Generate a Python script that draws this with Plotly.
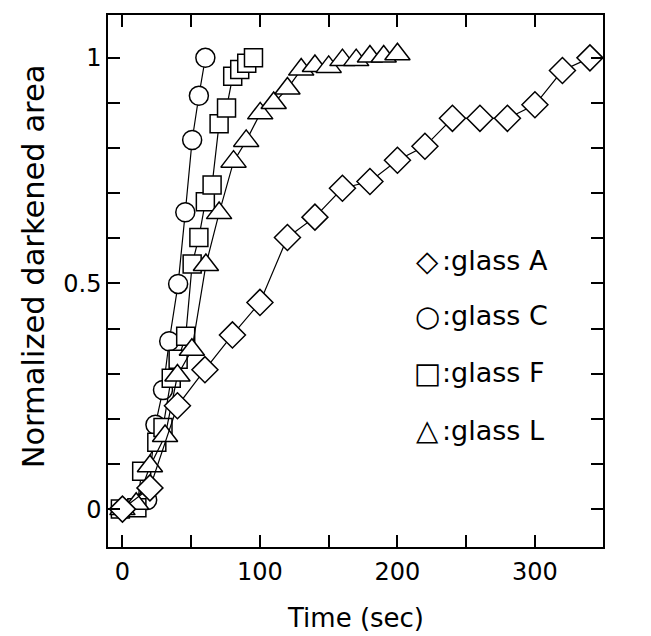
import plotly.graph_objects as go

# ---- data ----
time_A = [0, 20, 40, 60, 80, 100, 120, 140, 160, 180, 200, 220, 240, 260, 280, 300, 320, 340]
area_A = [0.0, 0.047, 0.229, 0.309, 0.386, 0.458, 0.602, 0.647, 0.711, 0.726, 0.773, 0.804, 0.866, 0.866, 0.866, 0.896, 0.972, 1.0]

time_C = [0, 18, 24, 29.5, 34, 40.5, 45.7, 50.7, 55.6, 60.3]
area_C = [0.0, 0.02, 0.187, 0.264, 0.372, 0.499, 0.658, 0.818, 0.916, 1.0]

time_F = [-1.5, 10.5, 14, 25, 29.5, 35.5, 40.5, 46, 50.7, 55.6, 60.3, 65.2, 70.3, 75.7, 80.2, 85.3, 90.4, 95.3]
area_F = [0.0, 0.003, 0.084, 0.148, 0.181, 0.29, 0.332, 0.383, 0.543, 0.602, 0.681, 0.718, 0.854, 0.889, 0.959, 0.974, 0.988, 1.0]

time_L = [0, 10, 20, 31, 40, 50.5, 60.7, 70.3, 80.8, 90, 100.2, 110, 120, 130, 140, 150, 160, 170, 180, 190, 200]
area_L = [0.0, 0.012, 0.095, 0.162, 0.296, 0.353, 0.541, 0.656, 0.77, 0.816, 0.877, 0.9, 0.932, 0.974, 0.982, 0.98, 0.995, 0.995, 1.003, 1.003, 1.008]

series_names = ["glass A", "glass C", "glass F", "glass L"]
legend_symbols = ["\u25C7", "\u25CB", "\u25A1", "\u25B3"]

x_tick_vals = [0, 50, 100, 150, 200, 250, 300]
x_tick_text = ["0", "", "100", "", "200", "", "300"]
y_tick_vals = [0, 0.1, 0.2, 0.3, 0.4, 0.5, 0.6, 0.7, 0.8, 0.9, 1.0]
y_tick_text = ["0", "", "", "", "", "0.5", "", "", "", "", "1"]

x_title = "Time (sec)"
y_title = "Normalized darkened area"

FONT = "DejaVu Sans"

fig = go.Figure()

def add_series(x, y, name, symbol, size):
    fig.add_trace(go.Scatter(
        x=x, y=y, name=name, mode="lines+markers",
        line=dict(color="black", width=1.2),
        marker=dict(symbol=symbol, size=size, color="white",
                    line=dict(color="black", width=1.5)),
        showlegend=False,
    ))

# drawing order: C bottom, then F, L, A on top
add_series(time_C, area_C, series_names[1], "circle", 19)
add_series(time_F, area_F, series_names[2], "square", 18)
add_series(time_L, area_L, series_names[3], "triangle-up", 22)
add_series(time_A, area_A, series_names[0], "diamond", 20)

# legend as text annotations
legend_y = [0.55, 0.428, 0.302, 0.175]
for sym, name, ly in zip(legend_symbols, series_names, legend_y):
    fig.add_annotation(x=222, y=ly, xref="x", yref="y", text=sym, showarrow=False,
                       xanchor="center", yanchor="middle",
                       font=dict(family=FONT, size=29, color="black"))
    fig.add_annotation(x=231, y=ly, xref="x", yref="y", text=":" + name, showarrow=False,
                       xanchor="left", yanchor="middle",
                       font=dict(family=FONT, size=27, color="black"))

# axis titles
fig.add_annotation(x=0.5, y=-0.133, xref="paper", yref="paper", text=x_title,
                   showarrow=False, xanchor="center", yanchor="middle",
                   font=dict(family=FONT, size=26, color="black"))
fig.add_annotation(x=-0.151, y=0.528, xref="paper", yref="paper", text=y_title,
                   showarrow=False, xanchor="center", yanchor="middle", textangle=-90,
                   font=dict(family=FONT, size=30.5, color="black"))

axis_common = dict(
    showline=True, linecolor="black", linewidth=1.5, mirror="ticks",
    ticks="inside", ticklen=12, tickwidth=1.5, tickcolor="black",
    showgrid=False, zeroline=False, automargin=False,
    tickfont=dict(family=FONT, size=24, color="black"),
)

fig.update_xaxes(range=[-10.5, 349.5], tickvals=x_tick_vals, ticktext=x_tick_text,
                 ticklabelstandoff=2, **axis_common)
fig.update_yaxes(range=[-0.084, 1.095], tickvals=y_tick_vals, ticktext=y_tick_text,
                 ticklabelstandoff=0, **axis_common)

fig.update_layout(
    width=651, height=636,
    margin=dict(l=100, r=56, t=7, b=97),
    paper_bgcolor="white", plot_bgcolor="white",
)

fig.write_html("out.html")
